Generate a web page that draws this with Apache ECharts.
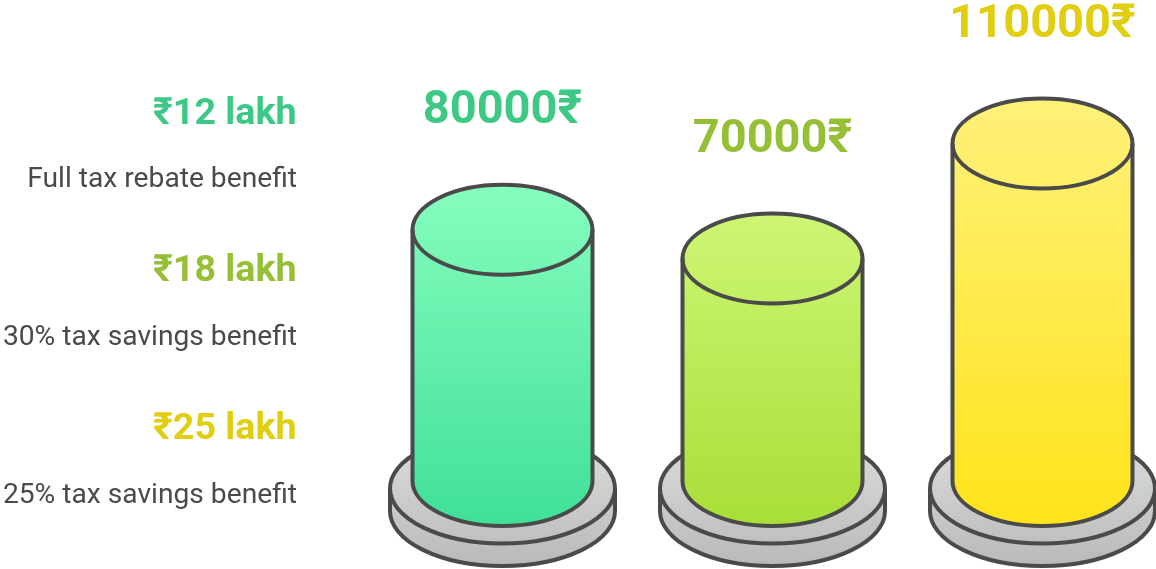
<!DOCTYPE html>
<html>
<head>
<meta charset="utf-8">
<style>html,body{margin:0;padding:0;background:#fff}#c{width:1156px;height:569px}</style>
<script src="https://cdn.jsdelivr.net/npm/echarts@6/dist/echarts.min.js"></script>
</head>
<body>
<div id="c"></div>
<script>
const categories = ['₹12 lakh', '₹18 lakh', '₹25 lakh'];
const savings = [80000, 70000, 110000];
const benefits = ['Full tax rebate benefit', '30% tax savings benefit', '25% tax savings benefit'];
const textColors = ['#3DC985', '#95BF35', '#E2CE10'];
const topColors = ['#86FDBE', '#CDF674', '#FFF17A'];
const bottomColors = ['#40E098', '#A8DE38', '#FFE31A'];

const STROKE = '#4A4A4A', SW = 4;
const chart = echarts.init(document.getElementById('c'), null, {renderer: 'canvas'});

function renderCylinder(params, api) {
  const i = api.value(0), v = api.value(1);
  const top = api.coord([i, v]);
  const zero = api.coord([i, 0]);
  const cx = top[0], rx = 90, ry = 45;
  const yT = top[1], yB = zero[1] + 21.25;
  const prx = 112.5, pry = 55, pT = yB + 7.5, pB = yB + 30;
  const grad = (y0, y1, c0, c1) => new echarts.graphic.LinearGradient(0, y0, 0, y1,
    [{offset: 0, color: c0}, {offset: 1, color: c1}], true);
  const stroke = {stroke: STROKE, lineWidth: SW, fill: null};
  return {type: 'group', children: [
    {type: 'path', shape: {pathData:
      `M${cx-prx} ${pT} A${prx} ${pry} 0 0 1 ${cx+prx} ${pT} L${cx+prx} ${pB} A${prx} ${pry} 0 0 1 ${cx-prx} ${pB} Z`},
      style: {fill: grad(pT-pry, pB+pry, '#DEDEDE', '#B9B9B9'), stroke: STROKE, lineWidth: SW}},
    {type: 'path', shape: {pathData: `M${cx-prx} ${pT} A${prx} ${pry} 0 0 0 ${cx+prx} ${pT}`}, style: stroke},
    {type: 'path', shape: {pathData:
      `M${cx-rx} ${yT} A${rx} ${ry} 0 0 1 ${cx+rx} ${yT} L${cx+rx} ${yB} A${rx} ${ry} 0 0 1 ${cx-rx} ${yB} Z`},
      style: {fill: grad(yT-ry, yB+ry, topColors[i], bottomColors[i]), stroke: STROKE, lineWidth: SW}},
    {type: 'path', shape: {pathData: `M${cx-rx} ${yT} A${rx} ${ry} 0 0 0 ${cx+rx} ${yT}`}, style: stroke},
    {type: 'text', x: cx, y: yT - 118.5, style: {text: v + '₹', fill: textColors[i],
      font: 'bold 47px Roboto', textAlign: 'center', textVerticalAlign: 'middle'}}
  ]};
}

const leftText = [];
categories.forEach((c, i) => {
  leftText.push({type: 'text', x: 296.5, y: 114.2 + i * 157.8, style: {text: c, fill: textColors[i],
    font: 'bold 37.6px Roboto', textAlign: 'right', textVerticalAlign: 'middle'}});
  leftText.push({type: 'text', x: 297, y: 180.4 + i * 157.7, style: {text: benefits[i], fill: STROKE,
    font: '28.2px Roboto', textAlign: 'right', textVerticalAlign: 'middle'}});
});

chart.setOption({
  animation: false,
  backgroundColor: '#fff',
  grid: {left: 367.5, width: 810, top: 114.75, height: 345, outerBoundsMode: 'none'},
  xAxis: {type: 'category', data: categories, show: false},
  yAxis: {type: 'value', min: 0, max: 120000, show: false},
  graphic: leftText,
  series: [{type: 'custom', clip: false, renderItem: renderCylinder,
    data: savings.map((v, i) => [i, v]), encode: {x: 0, y: 1}}]
});
</script>
</body>
</html>
